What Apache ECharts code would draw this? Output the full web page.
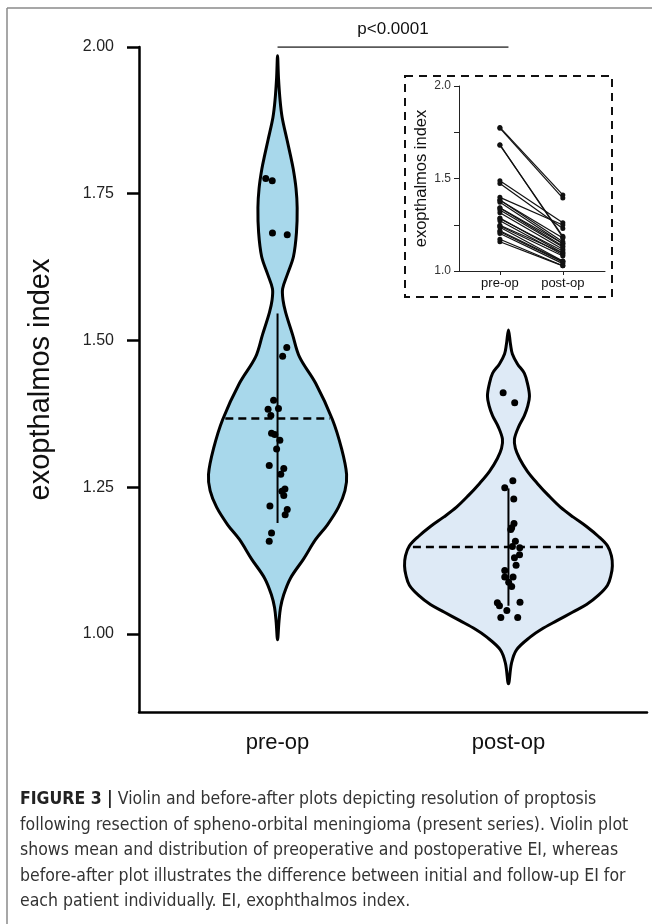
<!DOCTYPE html>
<html>
<head>
<meta charset="utf-8">
<script src="https://cdn.jsdelivr.net/npm/echarts@6/dist/echarts.min.js"></script>
<style>
html,body{margin:0;padding:0;background:#fff;}
#chart{width:652px;height:924px;}
</style>
</head>
<body>
<div id="chart"></div>
<script>
// ---------- data ----------
const categories = ['pre-op', 'post-op'];
const categoryX = [1, 2];
const yTicks = [1.00, 1.25, 1.50, 1.75, 2.00];
const insetYTicks = [1.0, 1.5, 2.0];
const pText = 'p<0.0001';

// individual patient values
const preValues = [1.776, 1.772, 1.683, 1.680, 1.488, 1.473, 1.398, 1.383, 1.384, 1.372,
                   1.342, 1.340, 1.315, 1.287, 1.282, 1.272, 1.247, 1.243, 1.236, 1.218,
                   1.212, 1.203, 1.172, 1.158, 1.330];
const preJitter = [-0.051, -0.023, -0.022, 0.042, 0.040, 0.022, -0.017, -0.041, 0.004, -0.029,
                   -0.026, -0.012, -0.004, -0.036, 0.027, 0.014, 0.032, 0.019, 0.027, -0.033,
                   0.042, 0.033, -0.026, -0.036, 0.010];
const postValues = [1.411, 1.394, 1.261, 1.249, 1.230, 1.188, 1.181, 1.178, 1.158, 1.149,
                    1.147, 1.135, 1.130, 1.117, 1.108, 1.097, 1.097, 1.088, 1.081, 1.053,
                    1.048, 1.054, 1.040, 1.028, 1.028];
const postJitter = [-0.023, 0.027, 0.019, -0.016, 0.023, 0.024, 0.014, 0.010, 0.030, 0.017,
                    0.049, 0.048, 0.026, 0.033, -0.016, -0.016, 0.020, 0.001, 0.014, -0.048,
                    -0.039, 0.050, -0.007, -0.033, 0.040];
// post-op index paired with each pre-op patient (before-after inset)
const pairIndex = [0, 1, 6, 5, 2, 4, 3, 7, 8, 10, 9, 11, 13, 15, 14, 17, 16, 18, 21, 19, 20, 22, 23, 24, 12];

// mean and mean±SD
const meanValues = [1.367, 1.148];
const sdLow = [1.189, 1.048];
const sdHigh = [1.546, 1.248];

// violin outlines: value levels and half-widths (x-axis units)
const preProfileValues = [1.985, 1.948, 1.909, 1.880, 1.842, 1.817, 1.792, 1.759, 1.726, 1.684, 1.643,
                          1.613, 1.588, 1.568, 1.548, 1.510, 1.472, 1.427, 1.365, 1.316, 1.272,
                          1.244, 1.216, 1.186, 1.161, 1.128, 1.095, 1.066, 1.045, 1.020, 0.990];
const preProfileWidths = [0, 0.004, 0.011, 0.020, 0.041, 0.055, 0.068, 0.080, 0.085, 0.082, 0.069,
                          0.043, 0.022, 0.024, 0.035, 0.065, 0.095, 0.165, 0.238, 0.277, 0.299,
                          0.292, 0.264, 0.216, 0.165, 0.113, 0.056, 0.026, 0.013, 0.006, 0];
const postProfileValues = [1.518, 1.493, 1.477, 1.460, 1.444, 1.424, 1.405, 1.389, 1.372, 1.352,
                           1.332, 1.316, 1.299, 1.277, 1.256, 1.236, 1.216, 1.199, 1.183, 1.166,
                           1.150, 1.133, 1.116, 1.100, 1.083, 1.066, 1.050, 1.037, 1.023, 1.008,
                           0.995, 0.973, 0.950, 0.915];
const postProfileWidths = [0, 0.009, 0.017, 0.039, 0.069, 0.084, 0.091, 0.084, 0.069, 0.043,
                           0.026, 0.030, 0.048, 0.082, 0.126, 0.173, 0.225, 0.281, 0.338, 0.390,
                           0.429, 0.446, 0.450, 0.444, 0.429, 0.390, 0.338, 0.277, 0.212, 0.143,
                           0.095, 0.035, 0.013, 0];

const captionLines = [
  'Violin and before-after plots depicting resolution of proptosis',
  'following resection of spheno-orbital meningioma (present series). Violin plot',
  'shows mean and distribution of preoperative and postoperative EI, whereas',
  'before-after plot illustrates the difference between initial and follow-up EI for',
  'each patient individually. EI, exophthalmos index.'
];
const captionLead = 'FIGURE 3 |';

// ---------- helpers ----------
function widthAt(vals, widths, v) {
  for (let i = 0; i < vals.length - 1; i++) {
    const a = vals[i], b = vals[i + 1];
    if ((v <= a && v >= b)) {
      const t = (a - v) / (a - b);
      return widths[i] + t * (widths[i + 1] - widths[i]);
    }
  }
  return 0;
}

function violinSeries(center, vals, widths, fill) {
  return {
    type: 'custom',
    xAxisIndex: 0, yAxisIndex: 0,
    clip: false,
    z: 2,
    data: [[center, vals[0]]],
    renderItem: function (params, api) {
      const pts = [];
      for (let i = 0; i < vals.length; i++) pts.push(api.coord([center - widths[i], vals[i]]));
      for (let i = vals.length - 2; i >= 1; i--) pts.push(api.coord([center + widths[i], vals[i]]));
      return {
        type: 'polygon',
        shape: { points: pts, smooth: 0.35 },
        style: { fill: fill, stroke: '#000', lineWidth: 3, lineJoin: 'round' }
      };
    }
  };
}

const FONT = "'Liberation Sans', Arial, Helvetica, sans-serif";
const CAPFONT = "'Liberation Sans Narrow', 'DejaVu Sans Condensed', 'Roboto Condensed', 'Liberation Sans', sans-serif";

const profiles = [
  [preProfileValues, preProfileWidths],
  [postProfileValues, postProfileWidths]
];
const series = [];
series.push(violinSeries(categoryX[0], preProfileValues, preProfileWidths, '#a8d8eb'));
series.push(violinSeries(categoryX[1], postProfileValues, postProfileWidths, '#deeaf6'));

// mean dashed lines
for (let k = 0; k < 2; k++) {
  const hw = widthAt(profiles[k][0], profiles[k][1], meanValues[k]) * 0.96;
  series.push({
    type: 'line', xAxisIndex: 0, yAxisIndex: 0, z: 3, symbol: 'none', silent: true,
    data: [[categoryX[k] - hw, meanValues[k]], [categoryX[k] + hw, meanValues[k]]],
    lineStyle: { color: '#000', width: 2.5, type: [8, 5] }
  });
  // mean ± SD
  series.push({
    type: 'line', xAxisIndex: 0, yAxisIndex: 0, z: 3, symbol: 'none', silent: true,
    data: [[categoryX[k], sdLow[k]], [categoryX[k], sdHigh[k]]],
    lineStyle: { color: '#000', width: 2 }
  });
}
// dots
series.push({
  type: 'scatter', xAxisIndex: 0, yAxisIndex: 0, z: 4, symbolSize: 7,
  itemStyle: { color: '#000', opacity: 1 },
  data: preValues.map((v, i) => [categoryX[0] + preJitter[i], v])
});
series.push({
  type: 'scatter', xAxisIndex: 0, yAxisIndex: 0, z: 4, symbolSize: 7,
  itemStyle: { color: '#000', opacity: 1 },
  data: postValues.map((v, i) => [categoryX[1] + postJitter[i], v])
});
// significance bar
series.push({
  type: 'line', xAxisIndex: 0, yAxisIndex: 0, z: 3, symbol: 'none', silent: true,
  data: [[categoryX[0], 2.0], [categoryX[1], 2.0]],
  lineStyle: { color: '#222', width: 1.3 }
});
series.push({
  type: 'scatter', xAxisIndex: 0, yAxisIndex: 0, symbolSize: 0, silent: true,
  itemStyle: { opacity: 1 },
  data: [[(categoryX[0] + categoryX[1]) / 2, 2.0]],
  label: { show: true, position: 'top', distance: 9, formatter: pText,
           fontSize: 17, color: '#111', fontFamily: FONT }
});

// inset before-after lines
for (let i = 0; i < preValues.length; i++) {
  series.push({
    type: 'line', xAxisIndex: 1, yAxisIndex: 1, symbol: 'circle', symbolSize: 5,
    silent: true,
    data: [[categoryX[0], preValues[i]], [categoryX[1], postValues[pairIndex[i]]]],
    lineStyle: { color: '#111', width: 1.2 },
    itemStyle: { color: '#111' }
  });
}

const option = {
  animation: false,
  backgroundColor: '#fff',
  grid: [
    { left: 139, right: 5, top: 47, bottom: 212 },
    { left: 459, top: 86, width: 146, height: 185 }
  ],
  xAxis: [
    {
      type: 'value', gridIndex: 0, min: 0.4, max: 2.6,
      splitLine: { show: false },
      axisLine: { show: true, lineStyle: { color: '#000', width: 2.5 } },
      axisTick: { show: false },
      axisLabel: {
        customValues: categoryX, margin: 20, fontSize: 22, color: '#111', fontFamily: FONT,
        formatter: v => categories[categoryX.indexOf(v)] || ''
      }
    },
    {
      type: 'value', gridIndex: 1, min: 0.35, max: 2.67,
      splitLine: { show: false },
      axisLine: { show: true, lineStyle: { color: '#222', width: 1 } },
      axisTick: { show: true, customValues: categoryX, length: 4, lineStyle: { color: '#222', width: 1 } },
      axisLabel: {
        customValues: categoryX, margin: 6, fontSize: 13, color: '#111', fontFamily: FONT,
        formatter: v => categories[categoryX.indexOf(v)] || ''
      }
    }
  ],
  yAxis: [
    {
      type: 'value', gridIndex: 0, min: 0.867, max: 2.0,
      splitLine: { show: false },
      axisLine: { show: true, lineStyle: { color: '#000', width: 2.5 } },
      axisTick: { show: true, customValues: yTicks, length: 12, lineStyle: { color: '#000', width: 2.5 } },
      axisLabel: {
        customValues: yTicks, margin: 25, fontSize: 16, color: '#222', fontFamily: FONT,
        formatter: v => v.toFixed(2)
      },
      name: 'exopthalmos index', nameLocation: 'middle', nameRotate: 90, nameGap: 84,
      nameTextStyle: { fontSize: 29, color: '#111', fontFamily: FONT }
    },
    {
      type: 'value', gridIndex: 1, min: 1.0, max: 2.0, interval: 0.25,
      splitLine: { show: false },
      axisLine: { show: true, lineStyle: { color: '#222', width: 1 } },
      axisTick: { show: true, length: 5, lineStyle: { color: '#222', width: 1 } },
      axisLabel: {
        customValues: insetYTicks, margin: 8, fontSize: 12, color: '#333', fontFamily: FONT,
        formatter: v => v.toFixed(1)
      },
      name: 'exopthalmos index', nameLocation: 'middle', nameRotate: 90, nameGap: 28,
      nameTextStyle: { fontSize: 16.5, color: '#111', fontFamily: FONT }
    }
  ],
  graphic: [
    { type: 'line', shape: { x1: 7, y1: 8, x2: 652, y2: 8 }, style: { stroke: '#8a8a8a', lineWidth: 1.5 }, silent: true },
    { type: 'line', shape: { x1: 7, y1: 8, x2: 7, y2: 924 }, style: { stroke: '#8a8a8a', lineWidth: 1.5 }, silent: true },
    { type: 'rect', shape: { x: 405, y: 76, width: 207, height: 221 },
      style: { fill: 'none', stroke: '#111', lineWidth: 2, lineDash: [8, 6] }, silent: true, z: 10 },
    { type: 'text', left: 20, top: 790, silent: true,
      style: { text: '{b|' + captionLead + '} ' + captionLines[0], font: '17.5px ' + CAPFONT, fill: '#333',
               rich: { b: { fontWeight: 'bold', fontSize: 17.5, fontFamily: CAPFONT, fill: '#222' } } } },
    ...captionLines.slice(1).map((t, i) => ({
      type: 'text', left: 20, top: 816 + i * 25.5, silent: true,
      style: { text: t, font: '17.5px ' + CAPFONT, fill: '#333' }
    }))
  ],
  series: series
};

const chart = echarts.init(document.getElementById('chart'), null, { renderer: 'canvas' });
chart.setOption(option);
</script>
</body>
</html>
